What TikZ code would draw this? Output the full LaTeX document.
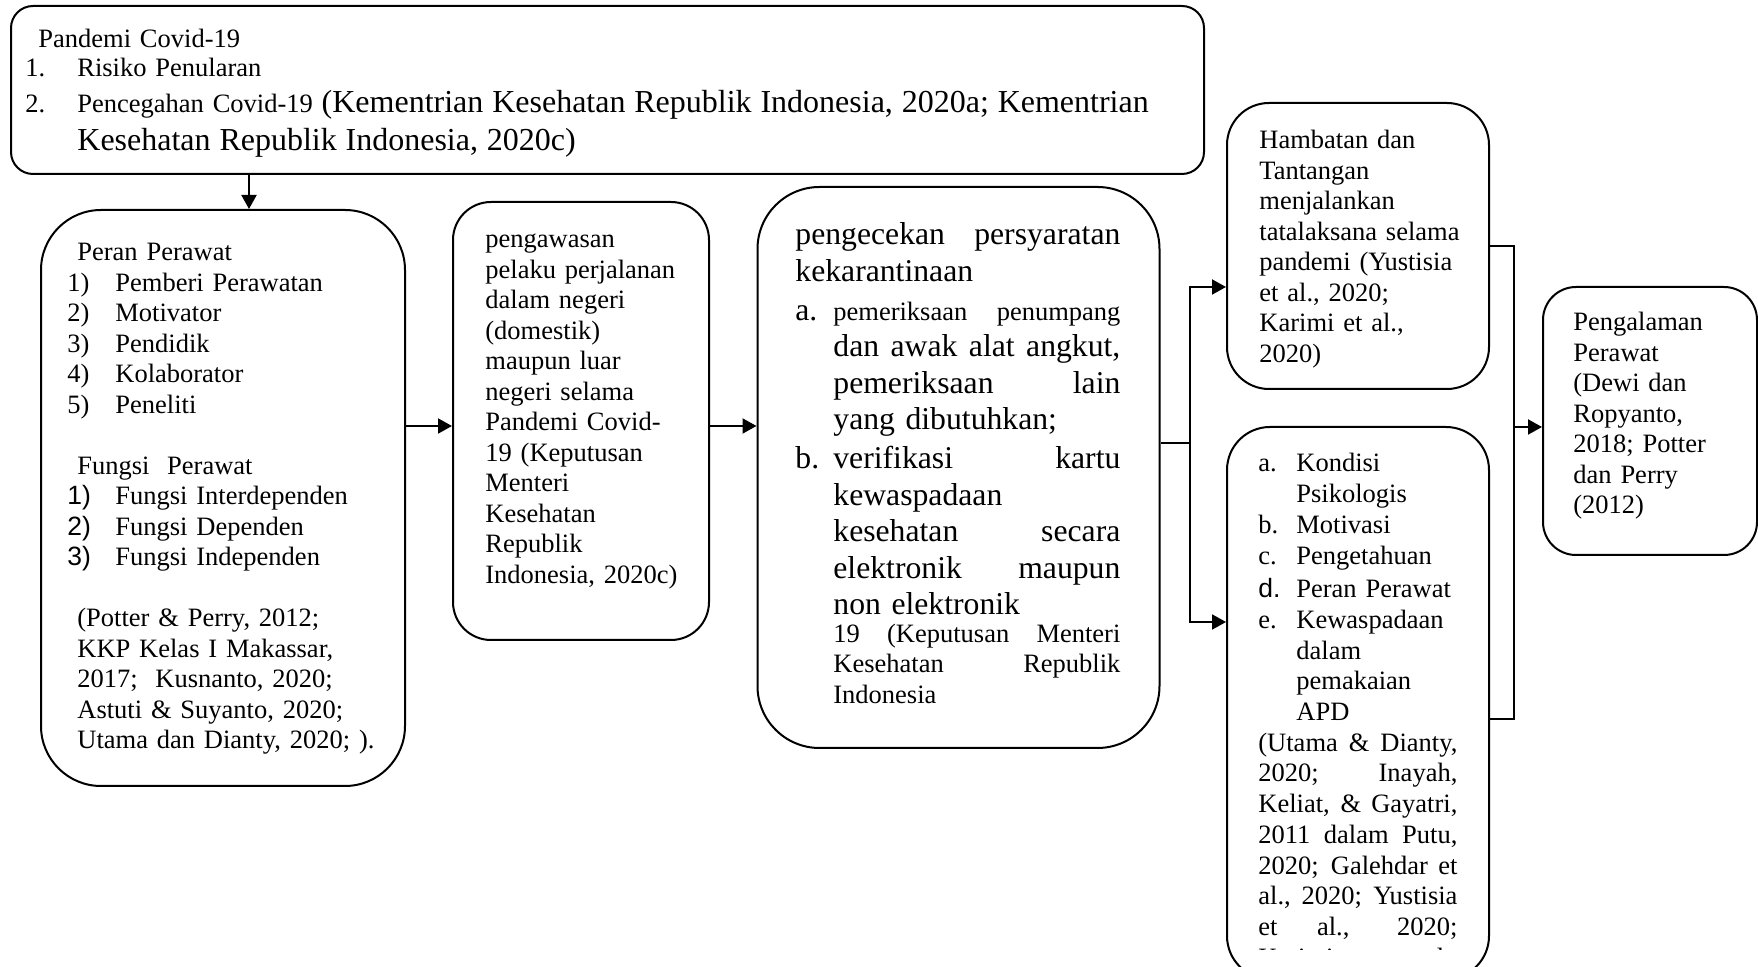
\documentclass[tikz,border=0pt]{standalone}
\usepackage{fontspec}
\setmainfont{Liberation Serif}
\newfontfamily\arialfont{Liberation Sans}
\usetikzlibrary{arrows.meta}

\newcommand{\ftxt}{\fontsize{13.25pt}{15.25pt}\selectfont}
\newcommand{\fbig}{\fontsize{16pt}{19pt}\selectfont}
\newcommand{\fgar}{\fontsize{15.85pt}{18.3pt}\selectfont}
\newcommand{\li}[3][24pt]{\makebox[#1][l]{#2}#3}
\newcommand{\jl}[2]{\leavevmode\hbox to #1{\spaceskip=0.25em plus 1fil\relax #2}}

\tikzstyle{block} = [rectangle, draw, line width=1pt, inner sep=0pt]
\tikzstyle{txt} = [anchor=base west, inner sep=0pt, align=left, text width=200pt, font=\ftxt]
\tikzstyle{link} = [line width=1pt, -{Triangle[length=7pt,width=7.5pt]}]

\begin{document}
\begin{tikzpicture}[x=0.5pt, y=-0.5pt]
        \useasboundingbox (0,0) rectangle (1758,967);
        \fill[white] (0,0) rectangle (1758,967);
        % Boxes
        \node (n0) at (607.5,90) [block, rounded corners=11pt, minimum width=596.5pt, minimum height=84pt] {};
        \node (n1) at (223,498) [block, rounded corners=30pt, minimum width=182pt, minimum height=288pt] {};
        \node (n2) at (581,421) [block, rounded corners=19pt, minimum width=128pt, minimum height=219pt] {};
        \node (n3) at (958.5,467.5) [block, rounded corners=31pt, minimum width=201pt, minimum height=280.5pt] {};
        \node (n4) at (1358,246) [block, rounded corners=21pt, minimum width=131pt, minimum height=143pt] {};
        \node (n5) at (1358,703) [block, rounded corners=21.5pt, minimum width=131pt, minimum height=276pt] {};
        \node (n6) at (1650,421) [block, rounded corners=16.5pt, minimum width=107pt, minimum height=134pt] {};

        % Texts
        \node (t0) at (25,48) [txt, text width=570pt, font=\fontsize{13.25pt}{19pt}\selectfont] {
            \hspace*{6.5pt}Pandemi Covid-19\\[-4.5pt]
            \li[26pt]{1.}{Risiko Penularan}\\[-1pt]
            \li[26pt]{2.}{Pencegahan Covid-19 {\fbig (Kementrian Kesehatan Republik Indonesia, 2020a; Kementrian}}\\
            \hspace*{26pt}{\fbig Kesehatan Republik Indonesia, 2020c)}
        };
        \node (t1) at (67,261) [txt] {
            \hspace*{5pt}Peran Perawat\\
            \li{1)}{Pemberi Perawatan}\\
            \li{2)}{Motivator}\\
            \li{3)}{Pendidik}\\
            \li{4)}{Kolaborator}\\
            \li{5)}{Peneliti}\\[15.25pt]
            \hspace*{5pt}Fungsi\ \ Perawat\\
            \li{\arialfont 1)}{Fungsi Interdependen}\\
            \li{\arialfont 2)}{Fungsi Dependen}\\
            \li{\arialfont 3)}{Fungsi Independen}\\[15.25pt]
            \hspace*{5pt}(Potter \& Perry, 2012;\\
            \hspace*{5pt}KKP Kelas I Makassar,\\
            \hspace*{5pt}2017;\ \ Kusnanto, 2020;\\
            \hspace*{5pt}Astuti \& Suyanto, 2020;\\
            \hspace*{5pt}Utama dan Dianty, 2020; ).
        };
        \node (t2) at (485,248) [txt] {
            pengawasan\\
            pelaku perjalanan\\
            dalam negeri\\
            (domestik)\\
            maupun luar\\
            negeri selama\\
            Pandemi Covid-\\
            19 (Keputusan\\
            Menteri\\
            Kesehatan\\
            Republik\\
            Indonesia, 2020c)
        };
        \node (t3) at (795,245) [txt, font=\fgar] {
            \jl{162.5pt}{pengecekan persyaratan}\\
            kekarantinaan\\[1pt]
            \li[19pt]{a.}{\jl{143.5pt}{\ftxt pemeriksaan penumpang}}\\
            \hspace*{19pt}\jl{143.5pt}{dan awak alat angkut,}\\
            \hspace*{19pt}\jl{143.5pt}{pemeriksaan lain}\\
            \hspace*{19pt}yang dibutuhkan;\\[1pt]
            \li[19pt]{b.}{\jl{143.5pt}{verifikasi kartu}}\\
            \hspace*{19pt}kewaspadaan\\
            \hspace*{19pt}\jl{143.5pt}{kesehatan secara}\\
            \hspace*{19pt}\jl{143.5pt}{elektronik maupun}\\
            \hspace*{19pt}non elektronik
        };
        \node (t3b) at (833,642.5) [txt] {
            \jl{143.5pt}{19 (Keputusan Menteri}\\
            \jl{143.5pt}{Kesehatan Republik}\\
            Indonesia
        };
        \node (t4) at (1259,149) [txt] {
            Hambatan dan\\
            Tantangan\\
            menjalankan\\
            tatalaksana selama\\
            pandemi (Yustisia\\
            et al., 2020;\\
            Karimi et al.,\\
            2020)
        };
        \begin{scope}
            \clip (1227,427) rectangle (1489,950);
            \node (t5) at (1258,472) [txt, font=\fontsize{13.25pt}{15.35pt}\selectfont] {
                \li[19pt]{a.}{Kondisi}\\
                \hspace*{19pt}Psikologis\\
                \li[19pt]{b.}{Motivasi}\\
                \li[19pt]{c.}{Pengetahuan}\\[1.5pt]
                \li[19pt]{\arialfont d.}{Peran Perawat}\\
                \li[19pt]{e.}{Kewaspadaan}\\
                \hspace*{19pt}dalam\\
                \hspace*{19pt}pemakaian\\
                \hspace*{19pt}APD\\
                \jl{99.5pt}{(Utama \& Dianty,}\\
                \jl{99.5pt}{2020; Inayah,}\\
                \jl{99.5pt}{Keliat, \& Gayatri,}\\
                \jl{99.5pt}{2011 dalam Putu,}\\
                \jl{99.5pt}{2020; Galehdar et}\\
                \jl{99.5pt}{al., 2020; Yustisia}\\
                \jl{99.5pt}{et al., 2020;}\\
                \jl{99.5pt}{Karimi et al.,}
            };
        \end{scope}
        \node (t6) at (1573,331) [txt] {
            Pengalaman\\
            Perawat\\
            (Dewi dan\\
            Ropyanto,\\
            2018; Potter\\
            dan Perry\\
            (2012)
        };

        % Connectors
        \coordinate (r1) at (0,426);
        \coordinate (fk) at (1190,443);
        \coordinate (jn) at (1514,427);
        \draw[link] ([xshift=13pt]n1.north |- n0.south) -- ([xshift=13pt]n1.north);
        \draw[link] (n1.east |- r1) -- (n2.west |- r1);
        \draw[link] (n2.east |- r1) -- (n3.west |- r1);
        \draw[line width=1pt] (n3.east |- fk) -- (fk);
        \draw[link] (fk) |- ([yshift=-20.5pt]n4.west);
        \draw[link] (fk) |- ([yshift=40.5pt]n5.west);
        \draw[line width=1pt] (n4.east) -| (jn) |- ([yshift=-8pt]n5.east);
        \draw[link] (jn) -- (n6.west |- jn);
    \end{tikzpicture}
\end{document}
